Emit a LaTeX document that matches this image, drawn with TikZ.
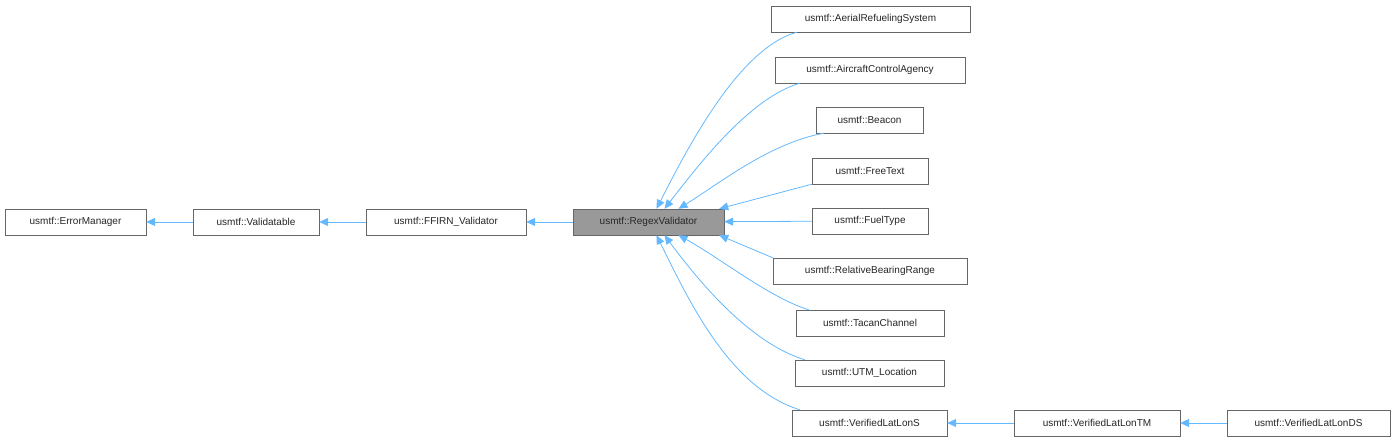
\documentclass[tikz,border=0pt]{standalone}
\usepackage{fontspec}
\setmainfont{Liberation Sans}
\usetikzlibrary{arrows.meta}
\begin{document}
\begin{tikzpicture}[x=1pt,y=1pt,
  box/.style={draw=black!60,fill=white,minimum height=26,inner sep=0pt,font=\fontsize{10}{12}\selectfont,text=black!85},
  arr/.style={draw={rgb,255:red,99;green,184;blue,255},line width=0.8pt,-{Triangle[length=9pt,width=8pt,fill={rgb,255:red,99;green,184;blue,255}]}}]
\useasboundingbox (0,0) rectangle (1396,443);
\node[box,minimum width=141] (em) at (75.5,221) {usmtf::ErrorManager};
\node[box,minimum width=126] (va) at (256,221) {usmtf::Validatable};
\node[box,minimum width=160] (ff) at (446,221) {usmtf::FFIRN\_Validator};
\node[box,minimum width=151,fill=black!40] (re) at (648.5,221) {usmtf::RegexValidator};
\node[box,minimum width=199] (a1) at (870.5,424) {usmtf::AerialRefuelingSystem};
\node[box,minimum width=190] (a2) at (870,373) {usmtf::AircraftControlAgency};
\node[box,minimum width=107] (a3) at (869.5,323) {usmtf::Beacon};
\node[box,minimum width=116] (a4) at (870,272) {usmtf::FreeText};
\node[box,minimum width=116] (a5) at (870,222) {usmtf::FuelType};
\node[box,minimum width=194] (a6) at (870,172) {usmtf::RelativeBearingRange};
\node[box,minimum width=148] (a7) at (870,120) {usmtf::TacanChannel};
\node[box,minimum width=149] (a8) at (869.5,70) {usmtf::UTM\_Location};
\node[box,minimum width=155] (a9) at (869.5,20) {usmtf::VerifiedLatLonS};
\node[box,minimum width=166] (b1) at (1097,20) {usmtf::VerifiedLatLonTM};
\node[box,minimum width=163] (b2) at (1308.5,20) {usmtf::VerifiedLatLonDS};
\draw[arr] (va) -- (em);
\draw[arr] (ff) -- (va);
\draw[arr] (re) -- (ff);
\draw[arr] (a5) -- (re);
\draw[arr] ([xshift=26]a1.south west) .. controls (740,395) and (690,300) .. ([xshift=8]re.north);
\draw[arr] ([xshift=25]a2.south west) .. controls (750,345) and (700,280) .. ([xshift=16]re.north);
\draw[arr] ([xshift=8]a3.south west) .. controls (770,300) and (720,260) .. ([xshift=30]re.north);
\draw[arr] (a4.south west) -- ([xshift=-5]re.north east);
\draw[arr] (a6.north west) -- ([xshift=-5]re.south east);
\draw[arr] ([xshift=13]a7.north west) .. controls (770,145) and (720,185) .. ([xshift=30]re.south);
\draw[arr] ([xshift=10]a8.north west) .. controls (750,100) and (700,160) .. ([xshift=16]re.south);
\draw[arr] ([xshift=8]a9.north west) .. controls (730,55) and (690,140) .. ([xshift=8]re.south);
\draw[arr] (b1) -- (a9);
\draw[arr] (b2) -- (b1);
\end{tikzpicture}
\end{document}
